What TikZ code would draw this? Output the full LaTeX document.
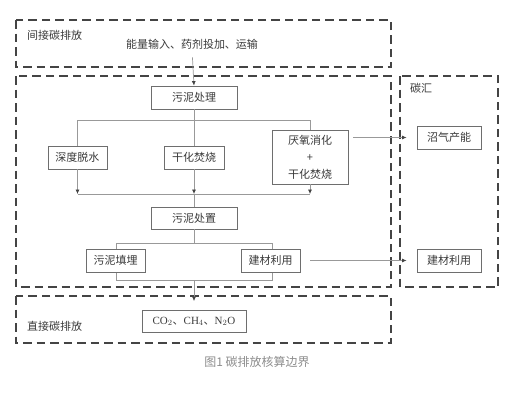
\documentclass[tikz,border=0pt]{standalone}
\usepackage{fontspec}
\setmainfont{Liberation Serif}
\newfontfamily\cjk{Noto Sans CJK SC}
\usetikzlibrary{arrows.meta}
\definecolor{boxc}{HTML}{6E6E6E}
\definecolor{linec}{HTML}{999999}
\definecolor{dashc}{HTML}{444444}
\definecolor{txtc}{HTML}{3A3A3A}
\begin{document}
\begin{tikzpicture}[x=1pt,y=-1pt,
  bound/.style={draw=dashc,line width=1.8pt,dash pattern=on 8.5pt off 5pt},
  box/.style={draw=boxc,line width=0.8pt,fill=white,inner sep=0pt,font=\cjk\fontsize{11}{12}\selectfont,text=txtc},
  conn/.style={draw=linec,line width=0.7pt},
  arr/.style={conn,-{Latex[length=4.5pt,width=4pt,color=dashc]}},
  lbl/.style={font=\cjk\fontsize{11}{12}\selectfont,text=txtc,inner sep=0pt}]
\useasboundingbox (0,0) rectangle (515,392);
% dashed boundaries
\draw[bound] (16,20) rectangle (391,67);
\draw[bound] (16,76) rectangle (391,287);
\draw[bound] (16,296) rectangle (391,343);
\draw[bound] (400,76) rectangle (498,287);
% labels
\node[lbl,anchor=west] (l1) at (27,35) {间接碳排放};
\node[lbl] (t1) at (192,44) {能量输入、药剂投加、运输};
\node[lbl,anchor=west] (l2) at (410,88) {碳汇};
\node[lbl,anchor=west] (l3) at (27,326) {直接碳排放};
% boxes
\node[box,minimum width=86pt,minimum height=23pt] (p1) at (194,97.5) {污泥处理};
\node[box,minimum width=59pt,minimum height=23pt] (a) at (77.5,157.5) {深度脱水};
\node[box,minimum width=60pt,minimum height=23pt] (b) at (194,157.5) {干化焚烧};
\node[box,minimum width=76pt,minimum height=54pt,align=center] (c) at (310,157) {厌氧消化\\[5pt]+\\[5pt]干化焚烧};
\node[box,minimum width=64pt,minimum height=23pt] (g) at (449,137.5) {沼气产能};
\node[box,minimum width=86pt,minimum height=22pt] (p2) at (194,218) {污泥处置};
\coordinate (j1) at (194,120);
\coordinate (j1l) at (77.5,120);
\coordinate (j1r) at (310,120);
\coordinate (j2) at (194,194);
\coordinate (j2l) at (77.5,194);
\coordinate (j2r) at (310,194);
\coordinate (j3) at (194,243);
\coordinate (j3l) at (116,243);
\coordinate (j3r) at (272,243);
\coordinate (j4l) at (116,280);
\coordinate (j4r) at (272,280);
\coordinate (j4) at (194,280);
% connectors behind bottom boxes
\draw[conn] (j3l) -- (j3r) -- (j4r) -- (j4l) -- cycle;
\node[box,minimum width=59pt,minimum height=23pt] (d) at (115.5,260.5) {污泥填埋};
\node[box,minimum width=59pt,minimum height=23pt] (e) at (270.5,260.5) {建材利用};
\node[box,minimum width=64pt,minimum height=23pt] (f) at (449,260.5) {建材利用};
\node[box,minimum width=104pt,minimum height=22pt,font=\fontsize{11}{12}\selectfont] (co) at (194,321.5) {CO$_2${\cjk 、}CH$_4${\cjk 、}N$_2$O};
% connectors
\draw[arr,shorten <=8pt] (t1.south) -- (p1.north);
\draw[conn] (p1.south) -- (j1);
\draw[conn] (j1l) -- (j1r);
\draw[conn] (j1l) -- (a.north);
\draw[conn] (j1) -- (b.north);
\draw[conn] (j1r) -- (c.north);
\draw[arr] (a.south) -- (j2l);
\draw[arr] (b.south) -- (j2);
\draw[arr] (c.south) -- (j2r);
\draw[conn] (j2l) -- (j2r);
\draw[conn] (j2) -- (p2.north);
\draw[conn] (p2.south) -- (j3);
\draw[arr,shorten >=9pt] (j4) -- (co.north);
\draw[arr,shorten <=5pt,shorten >=10pt] (c.east |- g.west) -- (g.west);
\draw[arr,shorten <=10pt,shorten >=10pt] (e.east) -- (f.west);
% caption
\node[font=\cjk\fontsize{12}{14}\selectfont,text=black!45,inner sep=0pt] (cap) at (257,362) {图1 碳排放核算边界};
\end{tikzpicture}
\end{document}
